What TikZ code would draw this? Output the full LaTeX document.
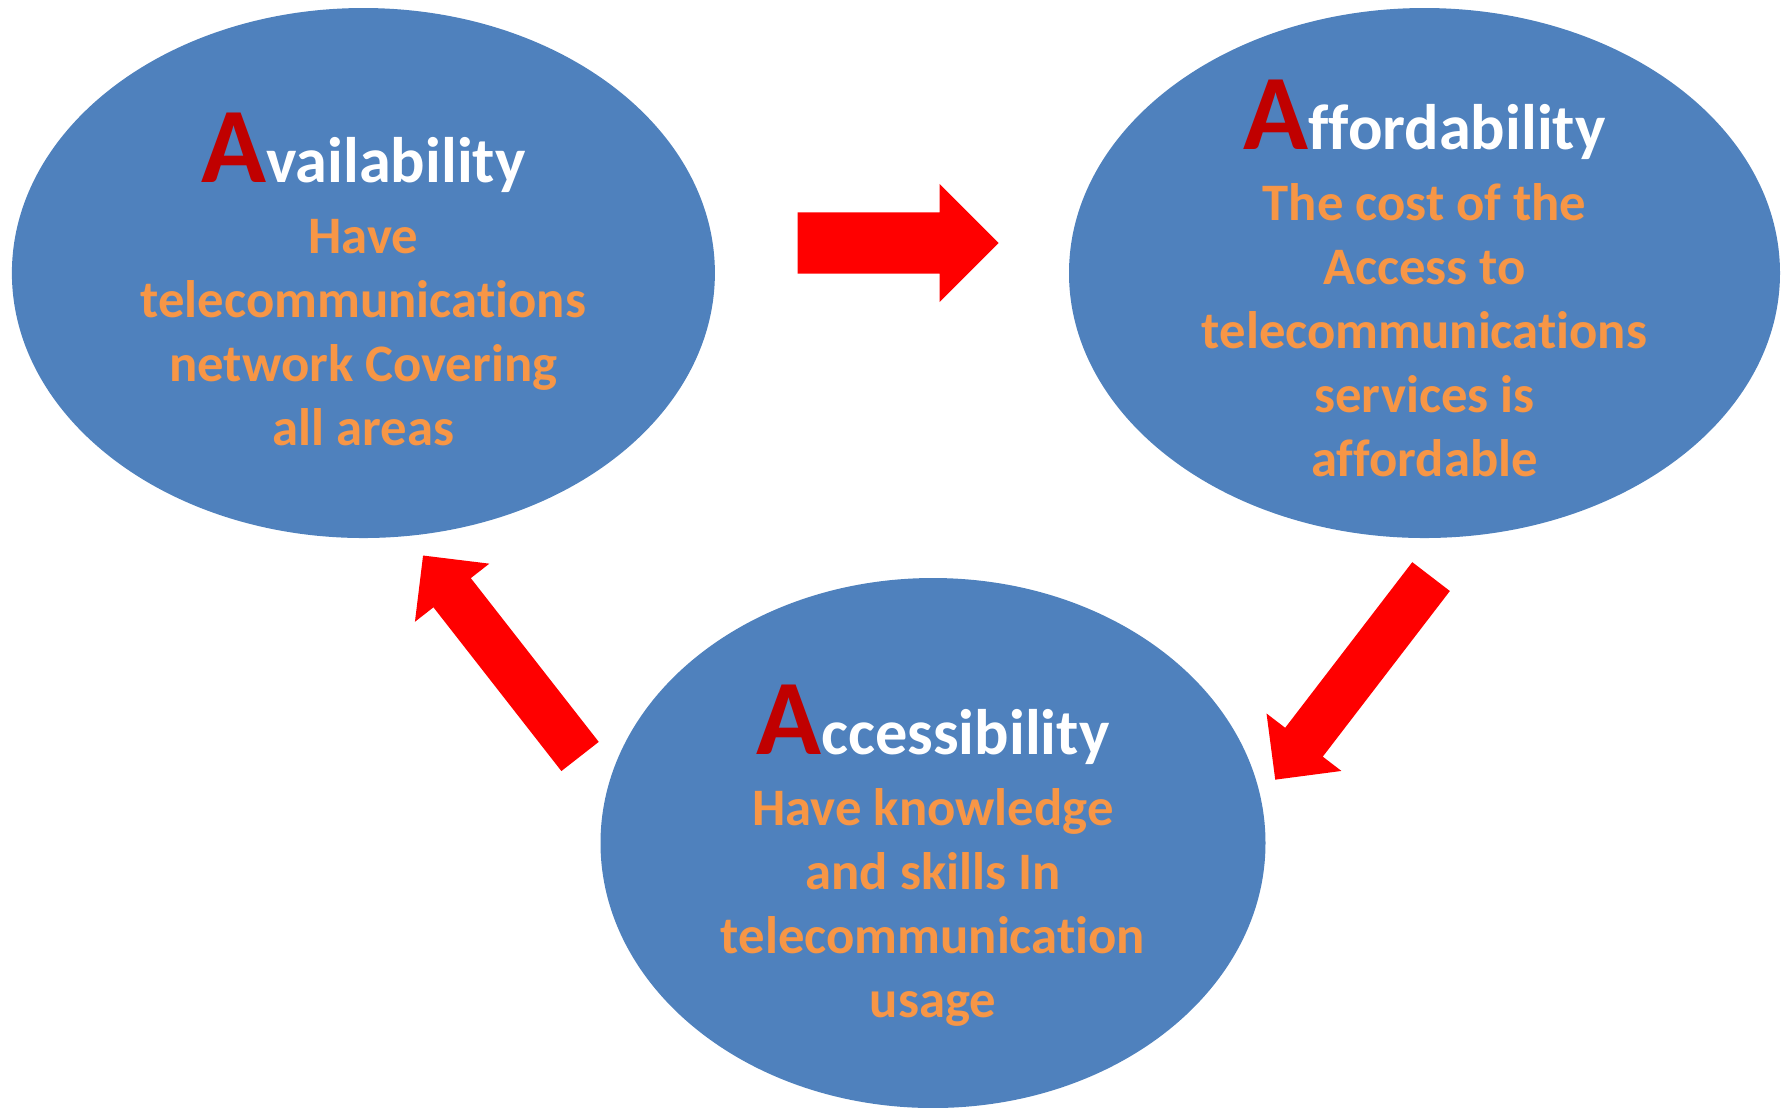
\documentclass[tikz,border=0pt]{standalone}
\usepackage{fontspec}
\setmainfont[Ligatures=NoCommon]{Carlito}
\usetikzlibrary{shapes.geometric, shapes.arrows}

\definecolor{bubbleblue}{HTML}{4F81BD}
\definecolor{blurborange}{HTML}{F79646}
\definecolor{capred}{HTML}{C00000}

\newcommand{\bigA}{{\fontsize{30.5}{30}\selectfont\color{capred}A}}

\begin{document}
\begin{tikzpicture}[
    bubble/.style={ellipse, fill=bubbleblue, inner sep=0pt, minimum height=5.30cm},
    title/.style={anchor=base, inner sep=0pt, text=white, font=\bfseries\fontsize{18.3}{22}\selectfont},
    blurb/.style={anchor=base, inner sep=0pt, align=center, text=blurborange, font=\bfseries\fontsize{15}{18.2}\selectfont},
    bigarrow/.style={single arrow, fill=red, inner xsep=0pt, anchor=tail, single arrow tip angle=90}
]
    \useasboundingbox (0,0) rectangle (17.89,-11.07);

    % --- The three bubbles ---
    \node[bubble, minimum width=7.03cm] (avail) at (3.634,-2.73) {};
    \node[bubble, minimum width=7.11cm] (afford) at (14.245,-2.73) {};
    \node[bubble, minimum width=6.65cm] (access) at (9.33,-8.43) {};

    % --- Titles ---
    \node[title] (availT) at (3.634,-1.82) {\bigA vailability};
    \node[title] (affordT) at (14.245,-1.495) {\bigA ffordability};
    \node[title] (accessT) at (9.33,-7.54) {\bigA ccessibility};

    % --- Texts (base = last line) ---
    \node[blurb] (availB) at ([yshift=-2.63cm]availT.base)
        {Have\\ telecommunications\\ network Covering\\ all areas};
    \node[blurb] (affordB) at ([yshift=-3.27cm]affordT.base)
        {The cost of the\\ Access to\\ telecommunications\\ services is\\ affordable};
    \node[blurb] (accessB) at ([yshift=-2.63cm]accessT.base)
        {Have knowledge\\ and skills In\\ telecommunication\\ usage};

    % --- Arrows between the bubbles ---
    \coordinate (tail1) at (7.97,-2.43);
    \coordinate (tail2) at (14.315,-5.76);
    \coordinate (tail3) at (5.805,-7.57);

    \node[bigarrow, minimum height=2.01cm, inner ysep=0.30cm,
          single arrow head extend=0.285cm] (a1) at (tail1) {};
    \node[bigarrow, minimum height=2.56cm, inner ysep=0.23cm,
          single arrow head extend=0.235cm, rotate=232.5] (a2) at (tail2) {};
    \node[bigarrow, minimum height=2.55cm, inner ysep=0.23cm,
          single arrow head extend=0.235cm, rotate=128] (a3) at (tail3) {};
\end{tikzpicture}
\end{document}
